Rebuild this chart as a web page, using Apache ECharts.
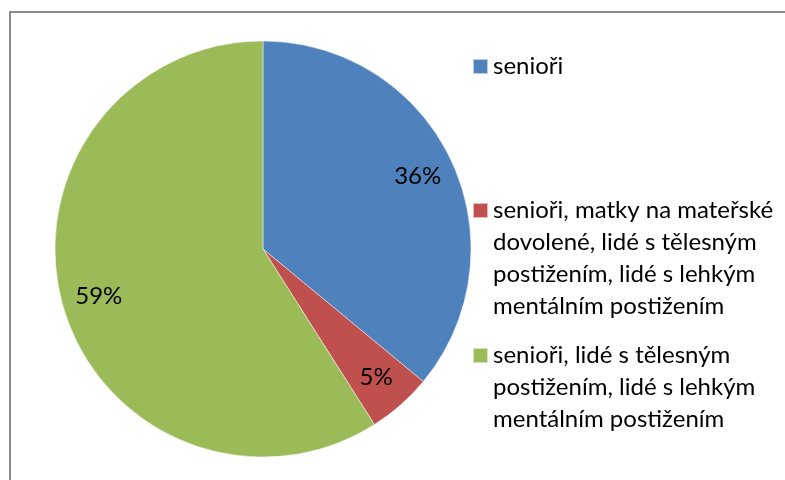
<!DOCTYPE html>
<html>
<head>
<meta charset="utf-8">
<script src="https://cdn.jsdelivr.net/npm/echarts@6/dist/echarts.min.js"></script>
<style>
  html, body { margin: 0; padding: 0; background: #fff; }
  #chart { width: 785px; height: 480px; }
</style>
</head>
<body>
<div id="chart"></div>
<script>
const categories = [
  'senioři',
  'senioři, matky na mateřské dovolené, lidé s tělesným postižením, lidé s lehkým mentálním postižením',
  'senioři, lidé s tělesným postižením, lidé s lehkým mentálním postižením'
]
// legend text broken into lines as in the picture
const legendLines = [
  ['senioři'],
  ['senioři, matky na mateřské', 'dovolené, lidé s tělesným', 'postižením, lidé s lehkým', 'mentálním postižením'],
  ['senioři, lidé s tělesným', 'postižením, lidé s lehkým', 'mentálním postižením']
]
const values = [36, 5, 59]
const colors = ['#4F81BD', '#C0504D', '#9BBB59']
const legendTops = [50.5, 98.5, 275.5]

const font = 'Lato'
const fontSize = 24
const lineH = 32

const chart = echarts.init(document.getElementById('chart'))

const pieData = categories.map((name, i) => ({
  name: name,
  value: values[i],
  itemStyle: { color: colors[i] }
}))

// empty lines in front so the square sits level with the first line
const legends = categories.map((name, i) => ({
  orient: 'vertical',
  left: 472,
  top: legendTops[i],
  padding: 0,
  icon: 'rect',
  itemWidth: 15,
  itemHeight: 15,
  selectedMode: false,
  formatter: () => '\n'.repeat(legendLines[i].length - 1) + legendLines[i].join('\n'),
  textStyle: {
    color: '#000',
    fontFamily: font,
    fontSize: fontSize,
    lineHeight: lineH
  },
  data: [{ name: name, itemStyle: { color: colors[i] } }]
}))

chart.setOption({
  animation: false,
  legend: legends,
  graphic: [{
    type: 'rect',
    shape: { x: 10, y: 12, width: 820, height: 520 },
    style: { fill: 'none', stroke: '#8a8a8a', lineWidth: 2 },
    silent: true
  }],
  series: [
    {
      type: 'pie',
      center: [263, 249],
      radius: [0, 208],
      startAngle: 90,
      clockwise: true,
      label: { show: false },
      labelLine: { show: false },
      itemStyle: { borderColor: 'rgba(255,255,255,0.6)', borderWidth: 0.8 },
      emphasis: { disabled: true },
      data: pieData
    },
    {
      // invisible ring only to place the percent labels
      type: 'pie',
      center: [263, 249],
      radius: [130, 206],
      startAngle: 90,
      clockwise: true,
      silent: true,
      itemStyle: { color: 'rgba(0,0,0,0)' },
      label: {
        show: true,
        position: 'inside',
        formatter: '{d}%',
        color: '#000',
        fontFamily: font,
        fontSize: fontSize
      },
      labelLine: { show: false },
      emphasis: { disabled: true },
      data: categories.map((name, i) => ({ name: name, value: values[i] }))
    }
  ]
})
</script>
</body>
</html>
